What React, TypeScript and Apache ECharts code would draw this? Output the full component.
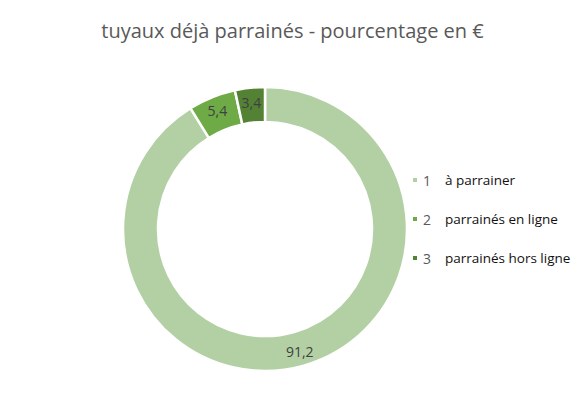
import React, { useEffect, useRef } from "react";
import * as echarts from "echarts";

const categories = ["1", "2", "3"];
const categoryLabels = ["à parrainer", "parrainés en ligne", "parrainés hors ligne"];
const values = [91.2, 5.4, 3.4];
const colors = ["#b3d0a4", "#6eab47", "#548235"];

export default function App() {
  const ref = useRef<HTMLDivElement>(null);
  useEffect(() => {
    if (!ref.current) return;
    const chart = echarts.init(ref.current, undefined, { renderer: "svg" });
    chart.setOption({
      animation: false,
      backgroundColor: "#ffffff",
      title: {
        text: "tuyaux déjà parrainés - pourcentage en €",
        left: "center",
        top: 15,
        textStyle: { fontFamily: "Open Sans", fontSize: 20, fontWeight: "normal", color: "#595959" },
      },
      legend: {
        orient: "vertical",
        left: 406,
        top: 168,
        itemWidth: 6,
        itemHeight: 6,
        itemGap: 25,
        icon: "rect",
        data: categories,
        formatter: (name: string) => {
          const i = categories.indexOf(name);
          return `{n|${name}}{t|${categoryLabels[i]}}`;
        },
        textStyle: {
          rich: {
            n: { fontFamily: "Open Sans", fontSize: 14, color: "#595959", width: 22 },
            t: { fontFamily: "Open Sans", fontSize: 13.5, color: "#111111" },
          },
        },
      },
      series: [
        {
          type: "pie",
          center: [265, 229],
          radius: [107, 142],
          startAngle: 90,
          clockwise: true,
          data: categories.map((c, i) => ({ name: c, value: values[i], itemStyle: { color: colors[i] } })),
          itemStyle: { borderColor: "#ffffff", borderWidth: 2.5 },
          label: {
            show: true,
            position: "inside",
            formatter: (p: any) => String(p.value).replace(".", ","),
            fontFamily: "Open Sans",
            fontSize: 14,
            color: "#404040",
          },
          labelLine: { show: false },
          emphasis: { disabled: true },
        },
      ],
    });
    return () => chart.dispose();
  }, []);
  return (
    <div
      ref={ref}
      style={{ position: "absolute", left: 0, top: 0, width: 585, height: 397 }}
    />
  );
}
